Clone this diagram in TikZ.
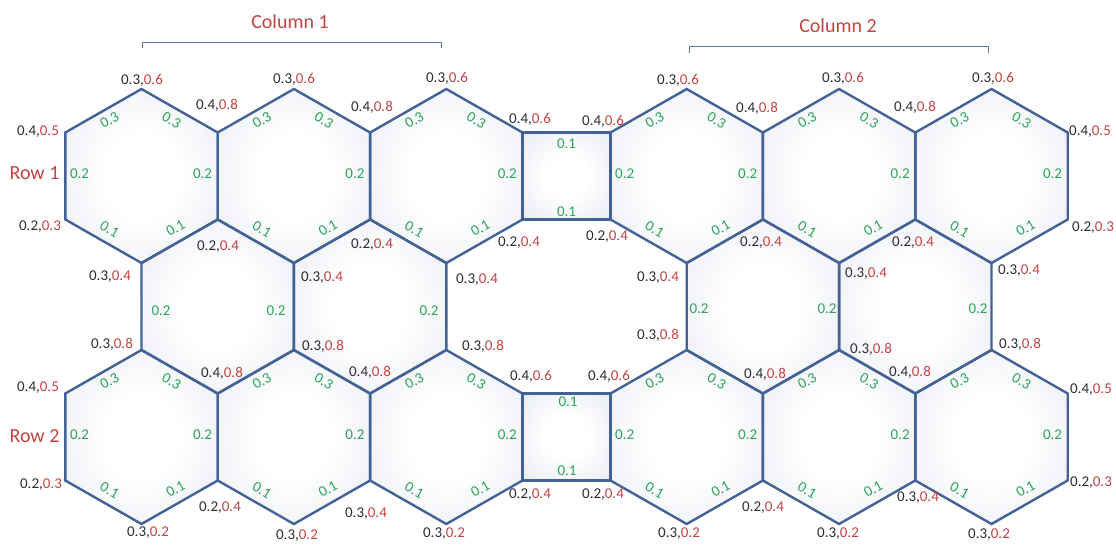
\documentclass[tikz,border=0pt]{standalone}
\usepackage{fontspec}
\setmainfont{Carlito}
\usetikzlibrary{calc}

\definecolor{edgeblue}{RGB}{68,98,150}
\definecolor{lblgreen}{RGB}{46,163,92}
\definecolor{lblred}{RGB}{196,68,68}
\definecolor{lbldark}{RGB}{45,45,52}
\definecolor{hexshade}{RGB}{216,222,233}
\definecolor{bracketblue}{RGB}{90,118,165}

% soft glow: white core fading to a pale blue-grey rim
\pgfdeclareradialshading{hexglow}{\pgfpoint{0bp}{0bp}}{color(0bp)=(white); color(12bp)=(white); color(52bp)=(hexshade); color(70bp)=(hexshade)}

% black value, red value
\newcommand\pv[2]{\textcolor{lbldark}{#1,}\textcolor{lblred}{#2}}

% pointy-top hexagon: corner coordinates plus shaded interior
\newcommand\hexcell[3]{%
  \coordinate (#1) at (#2,#3);
  \coordinate (#1-t)  at (#2,#3-87);
  \coordinate (#1-ur) at (#2+76.2,#3-43.5);
  \coordinate (#1-lr) at (#2+76.2,#3+43.5);
  \coordinate (#1-b)  at (#2,#3+87);
  \coordinate (#1-ll) at (#2-76.2,#3+43.5);
  \coordinate (#1-ul) at (#2-76.2,#3-43.5);
  \shade[shading=hexglow] (#1-t) -- (#1-ur) -- (#1-lr) -- (#1-b) -- (#1-ll) -- (#1-ul) -- cycle;}

\newcommand\hexrim[1]{%
  \draw[edge] (#1-t) -- (#1-ur) -- (#1-lr) -- (#1-b) -- (#1-ll) -- (#1-ul) -- cycle;}

% weights on the four slanted sides of a hexagon
\newcommand\slantlabels[1]{%
  \node[elab,rotate=30]  (#1-eul) at ($(#1)+(-32,-56)$) {0.3};
  \node[elab,rotate=-30] (#1-eur) at ($(#1)+(30,-56)$) {0.3};
  \node[elab,rotate=-30] (#1-ell) at ($(#1)+(-32,53)$) {0.1};
  \node[elab,rotate=30]  (#1-elr) at ($(#1)+(34,52)$) {0.1};}
\newcommand\rightlabel[1]{\node[elab] (#1-er) at ($(#1)+(61,-2)$) {0.2};}
\newcommand\leftlabel[1]{\node[elab] (#1-el) at ($(#1)+(-62,-2)$) {0.2};}

\begin{document}
\begin{tikzpicture}[x=1pt,y=-1pt,
  edge/.style={draw=edgeblue,line width=2.4pt,line join=miter},
  bracket/.style={draw=bracketblue,line width=1pt},
  vtx/.style={font=\fontsize{15}{18}\selectfont,inner sep=0pt,text height=9.5pt,text depth=0pt},
  elab/.style={font=\fontsize{15}{18}\selectfont,text=lblgreen,inner sep=0pt,text height=9.5pt,text depth=0pt},
  heading/.style={font=\fontsize{20}{24}\selectfont,text=lblred,inner sep=0pt}]

\fill[white] (0,0) rectangle (1116,544);
\useasboundingbox (0,0) rectangle (1116,544);

% ---- cells ----
\hexcell{h1}{141.5}{176}
\hexcell{h2}{293.9}{176}
\hexcell{h3}{446.3}{176}
\hexcell{h4}{686.7}{176}
\hexcell{h5}{839.1}{176}
\hexcell{h6}{991.5}{176}
\hexcell{m1}{217.7}{306.5}
\hexcell{m2}{370.1}{306.5}
\hexcell{m3}{762.9}{306.5}
\hexcell{m4}{915.3}{306.5}
\hexcell{g1}{141.5}{437}
\hexcell{g2}{293.9}{437}
\hexcell{g3}{446.3}{437}
\hexcell{g4}{686.7}{437}
\hexcell{g5}{839.1}{437}
\hexcell{g6}{991.5}{437}
\shade[shading=hexglow] (h3-ur) -- (h4-ul) -- (h4-ll) -- (h3-lr) -- cycle;
\shade[shading=hexglow] (g3-ur) -- (g4-ul) -- (g4-ll) -- (g3-lr) -- cycle;

% ---- outlines ----
\foreach \c in {h1,h2,h3,h4,h5,h6,m1,m2,m3,m4,g1,g2,g3,g4,g5,g6}{\hexrim{\c}}
\draw[edge] (h3-ur) -- (h4-ul) -- (h4-ll) -- (h3-lr) -- cycle;
\draw[edge] (g3-ur) -- (g4-ul) -- (g4-ll) -- (g3-lr) -- cycle;

% ---- headings and brackets ----
\node[heading] (col1) at (290,22) {Column 1};
\node[heading] (col2) at (838,26) {Column 2};
\node[heading] (row1) at (34.5,173) {Row 1};
\node[heading] (row2) at (34.5,436) {Row 2};
\draw[bracket] (142,48) -- (142,42) -- (441,42) -- (441,48);
\draw[bracket] (689,53) -- (689,46) -- (988,46) -- (988,53);

% ---- side weights ----
\foreach \c in {h1,h2,h3,h4,h5,h6,g1,g2,g3,g4,g5,g6}{\slantlabels{\c}\rightlabel{\c}}
\leftlabel{h1}\leftlabel{h4}\leftlabel{g1}\leftlabel{g4}
\node[elab] (s1-top) at (566.5,144) {0.1};
\node[elab] (s1-bot) at (566.5,212) {0.1};
\node[elab] (s2-top) at (568,402) {0.1};
\node[elab] (s2-bot) at (567,471) {0.1};
\node[elab] (m1-el) at (161,311) {0.2};
\node[elab] (m1-er) at (276,311) {0.2};
\node[elab] (m2-er) at (429,311) {0.2};
\node[elab] (m3-el) at (699,309) {0.2};
\node[elab] (m3-er) at (827,309) {0.2};
\node[elab] (m4-er) at (978,309) {0.2};

% ---- corner values, upper row ----
\node[vtx] (p1)  at (142,80)   {\pv{0.3}{0.6}};
\node[vtx] (p2)  at (38,131)   {\pv{0.4}{0.5}};
\node[vtx] (p3)  at (40,226)   {\pv{0.2}{0.3}};
\node[vtx] (p4)  at (217,105)  {\pv{0.4}{0.8}};
\node[vtx] (p5)  at (294,79)   {\pv{0.3}{0.6}};
\node[vtx] (p6)  at (372,107)  {\pv{0.4}{0.8}};
\node[vtx] (p7)  at (447,78)   {\pv{0.3}{0.6}};
\node[vtx] (p8)  at (530,119)  {\pv{0.4}{0.6}};
\node[vtx] (p9)  at (603,121)  {\pv{0.4}{0.6}};
\node[vtx] (p10) at (678,80)   {\pv{0.3}{0.6}};
\node[vtx] (p11) at (757,108)  {\pv{0.4}{0.8}};
\node[vtx] (p12) at (843,78)   {\pv{0.3}{0.6}};
\node[vtx] (p13) at (915,107)  {\pv{0.4}{0.8}};
\node[vtx] (p14) at (993,78)   {\pv{0.3}{0.6}};
\node[vtx] (p15) at (1090,131) {\pv{0.4}{0.5}};
\node[vtx] (p16) at (1093,227) {\pv{0.2}{0.3}};
\node[vtx] (p17) at (218,246)  {\pv{0.2}{0.4}};
\node[vtx] (p18) at (372,244)  {\pv{0.2}{0.4}};
\node[vtx] (p19) at (519,242)  {\pv{0.2}{0.4}};
\node[vtx] (p20) at (607,236)  {\pv{0.2}{0.4}};
\node[vtx] (p21) at (761,242)  {\pv{0.2}{0.4}};
\node[vtx] (p22) at (913,242)  {\pv{0.2}{0.4}};
\node[vtx] (p23) at (110,276)  {\pv{0.3}{0.4}};
\node[vtx] (p24) at (322,277)  {\pv{0.3}{0.4}};
\node[vtx] (p25) at (477,279)  {\pv{0.3}{0.4}};
\node[vtx] (p26) at (658,277)  {\pv{0.3}{0.4}};
\node[vtx] (p27) at (866,273)  {\pv{0.3}{0.4}};
\node[vtx] (p28) at (1019,270) {\pv{0.3}{0.4}};

% ---- corner values, middle band ----
\node[vtx] (p29) at (112,344)  {\pv{0.3}{0.8}};
\node[vtx] (p30) at (323,346)  {\pv{0.3}{0.8}};
\node[vtx] (p31) at (483,346)  {\pv{0.3}{0.8}};
\node[vtx] (p32) at (658,335)  {\pv{0.3}{0.8}};
\node[vtx] (p33) at (871,349)  {\pv{0.3}{0.8}};
\node[vtx] (p34) at (1020,344) {\pv{0.3}{0.8}};

% ---- corner values, lower row ----
\node[vtx] (p35) at (38,387)   {\pv{0.4}{0.5}};
\node[vtx] (p36) at (222,373)  {\pv{0.4}{0.8}};
\node[vtx] (p37) at (370,372)  {\pv{0.4}{0.8}};
\node[vtx] (p38) at (531,376)  {\pv{0.4}{0.6}};
\node[vtx] (p39) at (609,376)  {\pv{0.4}{0.6}};
\node[vtx] (p40) at (765,374)  {\pv{0.4}{0.8}};
\node[vtx] (p41) at (910,372)  {\pv{0.4}{0.8}};
\node[vtx] (p42) at (1091,389) {\pv{0.4}{0.5}};
\node[vtx] (p43) at (41,484)   {\pv{0.2}{0.3}};
\node[vtx] (p44) at (220,507)  {\pv{0.2}{0.4}};
\node[vtx] (p45) at (366,513)  {\pv{0.3}{0.4}};
\node[vtx] (p46) at (530,494)  {\pv{0.2}{0.4}};
\node[vtx] (p47) at (603,494)  {\pv{0.2}{0.4}};
\node[vtx] (p48) at (763,507)  {\pv{0.2}{0.4}};
\node[vtx] (p49) at (918,497)  {\pv{0.3}{0.4}};
\node[vtx] (p50) at (1091,482) {\pv{0.2}{0.3}};
\node[vtx] (p51) at (148,532)  {\pv{0.3}{0.2}};
\node[vtx] (p52) at (297,535)  {\pv{0.3}{0.2}};
\node[vtx] (p53) at (444,533)  {\pv{0.3}{0.2}};
\node[vtx] (p54) at (679,533)  {\pv{0.3}{0.2}};
\node[vtx] (p55) at (838,533)  {\pv{0.3}{0.2}};
\node[vtx] (p56) at (989,534)  {\pv{0.3}{0.2}};
\end{tikzpicture}
\end{document}
